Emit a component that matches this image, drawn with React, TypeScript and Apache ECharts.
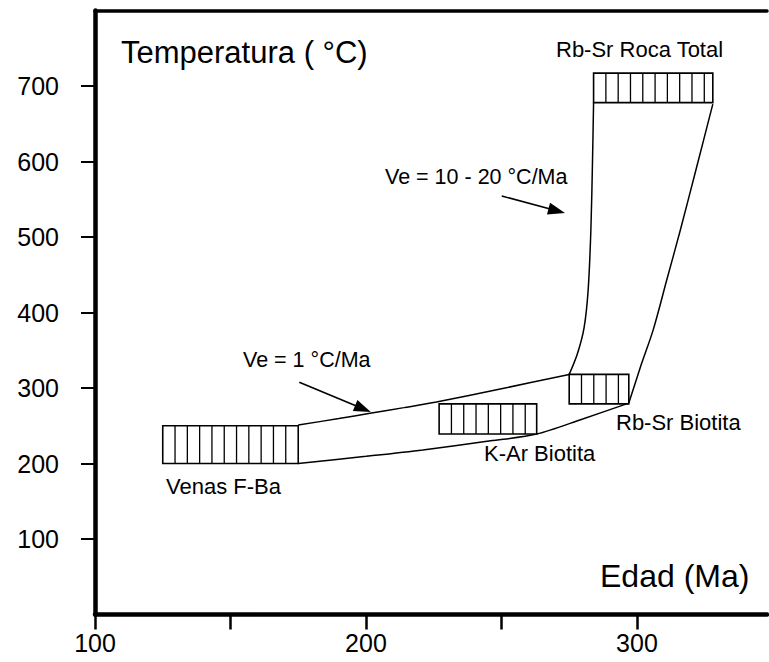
import React, { useEffect, useRef } from 'react';
import * as echarts from 'echarts';

// Axis ticks / labels
const xTickValues = [100, 150, 200, 250, 300];
const xLabelValues = [100, 200, 300];
const yTickValues = [100, 200, 300, 400, 500, 600, 700];

// Hatched boxes (age in Ma, temperature in °C)
const boxNames = ['Venas F-Ba', 'K-Ar Biotita', 'Rb-Sr Biotita', 'Rb-Sr Roca Total'];
const boxAgeMin = [125, 227, 275, 284];
const boxAgeMax = [175, 263, 297, 328];
const boxTempMin = [200, 239, 279, 678];
const boxTempMax = [250, 279, 318, 717];

// Envelope of the cooling path (the bend happens at the Rb-Sr Biotita box, index 6)
const upperAge = [175, 190, 201.5, 214, 226, 250, 275, 278, 280.5, 282, 283, 283.6, 284];
const upperTemp = [251, 259.5, 266.5, 274, 281.5, 299, 318, 345, 380, 430, 509, 600, 678];
const lowerAge = [175, 200, 221, 246, 263, 280, 297, 301.5, 306, 311, 316, 322, 328];
const lowerTemp = [200, 209.5, 218, 230, 239, 259, 280, 330, 377, 443, 509, 592, 676];
const BEND_INDEX = 6;

// Annotation arrows
const arrowFromAge = [175.4, 250.1];
const arrowFromTemp = [307.5, 554.3];
const arrowToAge = [198.9, 270.4];
const arrowToTemp = [272.5, 534.7];

const FONT = '"Liberation Sans", Arial, Helvetica, sans-serif';
const HATCH_STEP = 12.3;

export default function App() {
  const ref = useRef<HTMLDivElement>(null);

  useEffect(() => {
    if (!ref.current) return;
    const chart = echarts.init(ref.current, null, { renderer: 'svg' });

    const boxData = boxNames.map((n, i) => ({
      name: n,
      value: [boxAgeMin[i], boxAgeMax[i], boxTempMin[i], boxTempMax[i]],
    }));

    const arrows = arrowFromAge.map((a, i) => [
      { coord: [a, arrowFromTemp[i]] },
      { coord: [arrowToAge[i], arrowToTemp[i]] },
    ]);

    const pts = (ages: number[], temps: number[]) => ages.map((a, i) => [a, temps[i]]);
    const upper = pts(upperAge, upperTemp);
    const lower = pts(lowerAge, lowerTemp);
    const segments = [
      upper.slice(0, BEND_INDEX + 1),
      upper.slice(BEND_INDEX),
      lower.slice(0, BEND_INDEX + 1),
      lower.slice(BEND_INDEX),
    ];

    const lineSeries = segments.map((seg, i) => {
      const s: any = {
        type: 'line',
        data: seg,
        showSymbol: false,
        smooth: 0.3,
        silent: true,
        lineStyle: { color: '#000', width: 1.5 },
        z: 2,
      };
      if (i === 0) {
        s.markLine = {
          silent: true,
          symbol: ['none', 'triangle'],
          symbolSize: [12, 17],
          label: { show: false },
          lineStyle: { color: '#000', width: 1.6, type: 'solid' },
          itemStyle: { color: '#000' },
          data: arrows,
        };
      }
      return s;
    });

    const txt = (text: string, x: number, y: number, size: number) => ({
      type: 'text',
      x,
      y,
      silent: true,
      style: {
        text,
        fill: '#000',
        font: `${size}px ${FONT}`,
        textAlign: 'left',
        textVerticalAlign: 'middle',
      },
    });

    const option: any = {
      animation: false,
      textStyle: { fontFamily: FONT, color: '#000' },
      grid: { left: 95, right: 2, top: 10.5, bottom: 47.5, containLabel: false },
      xAxis: [
        {
          type: 'value',
          min: 100,
          max: 348,
          position: 'bottom',
          axisLine: { onZero: false, lineStyle: { color: '#000', width: 4.5 } },
          axisTick: {
            show: true,
            customValues: xTickValues,
            length: 15,
            lineStyle: { color: '#000', width: 2.5 },
          },
          axisLabel: {
            customValues: xLabelValues,
            fontSize: 25,
            margin: 16,
            color: '#000',
            fontFamily: FONT,
          },
          splitLine: { show: false },
        },
        {
          type: 'value',
          min: 100,
          max: 348,
          position: 'top',
          axisLine: { onZero: false, lineStyle: { color: '#000', width: 3.5 } },
          axisTick: { show: false },
          axisLabel: { show: false },
          splitLine: { show: false },
        },
      ],
      yAxis: {
        type: 'value',
        min: 0,
        max: 800,
        axisLine: { show: true, onZero: false, lineStyle: { color: '#000', width: 4.5 } },
        axisTick: {
          show: true,
          customValues: yTickValues,
          length: 14,
          lineStyle: { color: '#000', width: 2 },
        },
        axisLabel: {
          customValues: yTickValues,
          fontSize: 25,
          margin: 36,
          color: '#000',
          fontFamily: FONT,
        },
        splitLine: { show: false },
      },
      series: [
        ...lineSeries,
        {
          type: 'custom',
          data: boxData,
          encode: { x: [0, 1], y: [2, 3] },
          silent: true,
          z: 5,
          renderItem: (params: any, api: any) => {
            const x0 = api.value(0);
            const x1 = api.value(1);
            const y0 = api.value(2);
            const y1 = api.value(3);
            const tl = api.coord([x0, y1]);
            const br = api.coord([x1, y0]);
            const children: any[] = [
              {
                type: 'rect',
                shape: { x: tl[0], y: tl[1], width: br[0] - tl[0], height: br[1] - tl[1] },
                style: { fill: '#fff', stroke: '#000', lineWidth: 1.6 },
              },
            ];
            for (let x = tl[0] + HATCH_STEP; x < br[0] - 3; x += HATCH_STEP) {
              children.push({
                type: 'line',
                shape: { x1: x, y1: tl[1], x2: x, y2: br[1] },
                style: { stroke: '#000', lineWidth: 1.3 },
              });
            }
            return { type: 'group', children };
          },
        },
      ],
      graphic: [
        txt('Temperatura ( °C)', 121, 52, 31),
        txt('Edad (Ma)', 600, 576, 32),
        txt('Rb-Sr Roca Total', 556, 49.5, 22),
        txt('Ve = 10 - 20 °C/Ma', 385, 176.5, 21.5),
        txt('Ve = 1 °C/Ma', 243, 360, 21.5),
        txt('Venas F-Ba', 166, 486.5, 22),
        txt('K-Ar Biotita', 484, 453.5, 22),
        txt('Rb-Sr Biotita', 616, 422.5, 22),
      ],
    };

    chart.setOption(option);
    return () => chart.dispose();
  }, []);

  return (
    <div
      ref={ref}
      style={{ position: 'absolute', left: 0, top: 0, width: 769, height: 662, background: '#fff' }}
    />
  );
}
